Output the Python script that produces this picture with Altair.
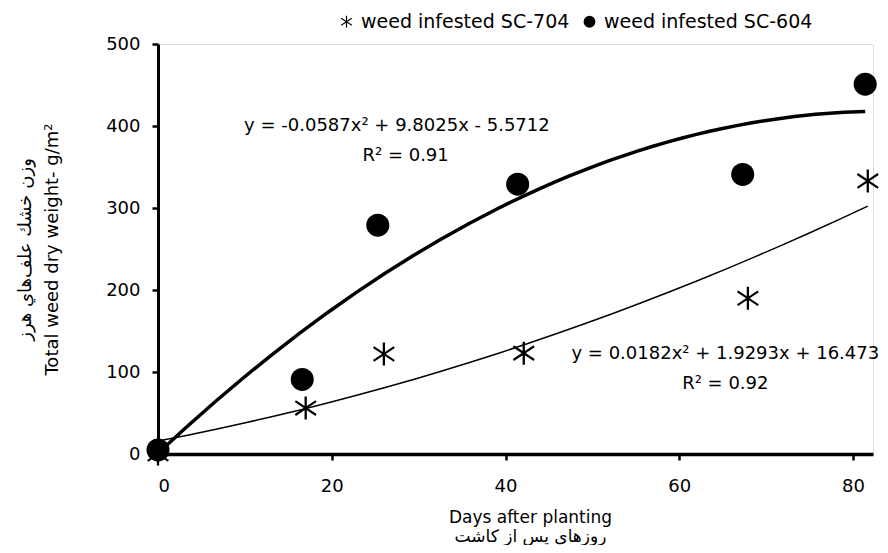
import altair as alt
import pandas as pd

# ---- data ----
series_names = ["weed infested SC-704", "weed infested SC-604"]
days_704 = [0, 17.0, 26.0, 42.1, 67.9, 81.7]
weight_704 = [0, 56, 122, 123, 190, 333]
days_604 = [0, 16.6, 25.3, 41.4, 67.3, 81.4]
weight_604 = [5, 91, 279, 329, 341, 451]

x_ticks = [0, 20, 40, 60, 80]
y_ticks = [0, 100, 200, 300, 400, 500]

eq_text = [
    "y = -0.0587x² + 9.8025x - 5.5712",
    "R² = 0.91",
    "y = 0.0182x² + 1.9293x + 16.473",
    "R² = 0.92",
]
# annotation anchor positions (data units)
eq_x = [27.5, 28.5, 65.3, 65.3]
eq_y = [400, 363, 122, 85]

FONT = "DejaVu Sans"
# six-armed asterisk drawn as three thin filled bars
ASTERISK = (
    "M-0.1,-1L0.1,-1L0.1,1L-0.1,1Z"
    "M-0.85,-0.68L0.95,0.52L0.85,0.68L-0.95,-0.52Z"
    "M-0.95,0.52L0.85,-0.68L0.95,-0.52L-0.85,0.68Z"
)

pts = pd.DataFrame({
    "day": days_704 + days_604,
    "weight": weight_704 + weight_604,
    "series": [series_names[0]] * len(days_704) + [series_names[1]] * len(days_604),
})
ann = pd.DataFrame({"x": eq_x, "y": eq_y, "t": eq_text})

xscale = alt.Scale(domain=[0, 82.3], nice=False, zero=False)
yscale = alt.Scale(domain=[0, 500], nice=False)

x_axis = alt.Axis(
    values=x_ticks, title=["Days after planting", "روزهاي پس از كاشت"],
    titleFont=FONT, titleFontSize=17, titleFontWeight="normal", titleColor="black",
    titleLineHeight=19, titlePadding=14, titleX=372,
    labelFont=FONT, labelFontSize=18, labelColor="black", labelPadding=17,
    tickSize=6, tickWidth=2.5, tickColor="black",
    domainWidth=3.5, domainColor="black", grid=False,
)
y_axis = alt.Axis(
    values=y_ticks, title=["وزن خشك علف‌هاي هرز", "Total weed dry weight- g/m²"],
    titleFont=FONT, titleFontSize=18, titleFontWeight="normal", titleColor="black",
    titleLineHeight=27, titlePadding=44,
    labelFont=FONT, labelFontSize=18, labelColor="black", labelPadding=12,
    tickSize=6, tickWidth=2.5, tickColor="black",
    domainWidth=3, domainColor="black", grid=False,
)

base = alt.Chart(pts)


def curve(name, width, axes=False):
    enc_x = alt.X("day:Q", scale=xscale, axis=x_axis) if axes else alt.X("day:Q", scale=xscale)
    enc_y = alt.Y("weight:Q", scale=yscale, axis=y_axis) if axes else alt.Y("weight:Q", scale=yscale)
    return base.transform_filter(
        alt.datum.series == name
    ).transform_regression(
        "day", "weight", method="poly", order=2
    ).mark_line(color="black", strokeWidth=width).encode(x=enc_x, y=enc_y)


curve_604 = curve(series_names[1], 3.5, axes=True)
curve_704 = curve(series_names[0], 1.5)

points = base.mark_point(
    filled=True, color="black", size=529, strokeWidth=0, opacity=1
).encode(
    x=alt.X("day:Q", scale=xscale),
    y=alt.Y("weight:Q", scale=yscale),
    shape=alt.Shape(
        "series:N",
        scale=alt.Scale(domain=series_names, range=[ASTERISK, "circle"]),
        legend=alt.Legend(
            orient="none", legendX=179, legendY=-32, direction="horizontal", title=None,
            labelFont=FONT, labelFontSize=19, labelColor="black", labelOffset=5,
            labelLimit=400, symbolSize=140, symbolFillColor="black",
            symbolStrokeWidth=0, columnPadding=10, padding=0,
        ),
    ),
)

labels = alt.Chart(ann).mark_text(
    font=FONT, fontSize=18, color="black", align="center", baseline="middle"
).encode(
    x=alt.X("x:Q", scale=xscale),
    y=alt.Y("y:Q", scale=yscale),
    text="t:N",
)

chart = alt.layer(curve_604, curve_704, points, labels).properties(
    width=715, height=410,
    autosize=alt.AutoSizeParams(type="none"),
    padding={"left": 150, "top": 36, "right": 7, "bottom": 91},
).configure_view(stroke=None).configure(background="white")

chart.save("out.html", embed_options={"renderer": "svg", "actions": False})
